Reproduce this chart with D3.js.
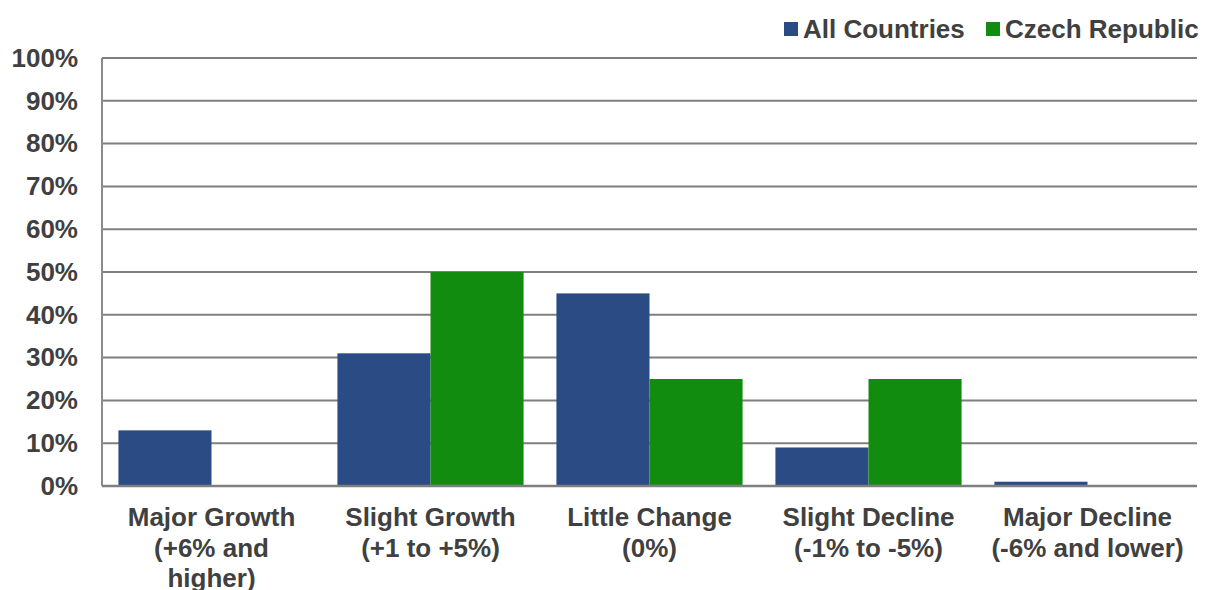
<!DOCTYPE html>
<html>
<head>
<meta charset="utf-8">
<script src="https://cdn.jsdelivr.net/npm/d3@7"></script>
<style>
  html, body { margin: 0; padding: 0; background: #ffffff; }
  svg { display: block; }
  text { font-family: "Liberation Sans", Arial, sans-serif; font-weight: bold; fill: #404040; }
</style>
</head>
<body>
<svg id="chart" width="1205" height="590"></svg>
<script>
// Expected revenue change categories
const categories = [
  "Major Growth (+6% and higher)",
  "Slight Growth (+1 to +5%)",
  "Little Change (0%)",
  "Slight Decline (-1% to -5%)",
  "Major Decline (-6% and lower)"
];
const seriesNames = ["All Countries", "Czech Republic"];
const allCountries = [13, 31, 45, 9, 1];
const czechRepublic = [0, 50, 25, 25, 0];
const yTicks = [0, 10, 20, 30, 40, 50, 60, 70, 80, 90, 100];
const colors = ["#2a4b83", "#128c0e"];

const svg = d3.select("#chart");
const margin = { top: 58, right: 8, bottom: 104, left: 102 };
const W = 1205, H = 590;
const iw = W - margin.left - margin.right;
const ih = H - margin.top - margin.bottom;
const fontSize = "26px";

const g = svg.append("g").attr("transform", `translate(${margin.left},${margin.top})`);

const x0 = d3.scaleBand().domain(categories).range([0, iw]).paddingInner(0.15).paddingOuter(0.075);
const x1 = d3.scaleBand().domain(seriesNames).range([0, x0.bandwidth()]);
const y = d3.scaleLinear().domain([0, 100]).range([ih, 0]);

// Horizontal gridlines
g.append("g")
  .selectAll("line")
  .data(yTicks.filter(t => t > 0))
  .join("line")
  .attr("x1", 0).attr("x2", iw)
  .attr("y1", d => y(d)).attr("y2", d => y(d))
  .attr("stroke", "#7f7f7f").attr("stroke-width", 2);

// Y axis labels
const yAxis = d3.axisLeft(y).tickValues(yTicks).tickFormat(d => d + "%").tickSize(0).tickPadding(24);
const ya = g.append("g").call(yAxis);
ya.select(".domain").remove();
ya.selectAll("text")
  .style("font-family", "'Liberation Sans', Arial, sans-serif")
  .style("font-weight", "bold")
  .style("font-size", fontSize)
  .attr("fill", "#404040");

// Bars
const rows = categories.map((c, i) => ({ cat: c, vals: [allCountries[i], czechRepublic[i]] }));
const grp = g.append("g").selectAll("g")
  .data(rows)
  .join("g")
  .attr("transform", d => `translate(${x0(d.cat)},0)`);

grp.selectAll("rect")
  .data(d => d.vals.map((v, k) => ({ key: seriesNames[k], v, k })))
  .join("rect")
  .attr("x", d => x1(d.key))
  .attr("y", d => y(d.v))
  .attr("width", x1.bandwidth())
  .attr("height", d => ih - y(d.v))
  .attr("fill", d => colors[d.k]);

// Axis lines (left, baseline, top)
g.append("line").attr("x1", 0).attr("x2", 0).attr("y1", 0).attr("y2", ih)
  .attr("stroke", "#8c8c8c").attr("stroke-width", 2);
g.append("line").attr("x1", 0).attr("x2", iw).attr("y1", ih).attr("y2", ih)
  .attr("stroke", "#7f7f7f").attr("stroke-width", 2.5);
g.append("line").attr("x1", 0).attr("x2", iw).attr("y1", 0).attr("y2", 0)
  .attr("stroke", "#7f7f7f").attr("stroke-width", 2);

// X axis category labels, wrapped
const xAxis = d3.axisBottom(x0).tickSize(0).tickPadding(0);
const xa = g.append("g").attr("transform", `translate(0,${ih})`).call(xAxis);
xa.select(".domain").remove();
xa.selectAll("text")
  .style("font-family", "'Liberation Sans', Arial, sans-serif")
  .style("font-weight", "bold")
  .style("font-size", fontSize)
  .attr("fill", "#404040")
  .each(function (d) {
    const t = d3.select(this);
    const words = d.split(" ");
    t.text(null);
    let line = [];
    let lineNo = 0;
    let tspan = t.append("tspan").attr("x", 0).attr("y", 40);
    for (const w of words) {
      line.push(w);
      tspan.text(line.join(" "));
      if (tspan.node().getComputedTextLength() > 202 && line.length > 1) {
        line.pop();
        tspan.text(line.join(" "));
        line = [w];
        lineNo++;
        tspan = t.append("tspan").attr("x", 0).attr("y", 40 + lineNo * 30.5).text(w);
      }
    }
  })
  .attr("dy", null);

// Legend
const legend = svg.append("g").attr("transform", "translate(784,22)");
const legendX = [0, 202];
seriesNames.forEach((name, i) => {
  const lg = legend.append("g").attr("transform", `translate(${legendX[i]},0)`);
  lg.append("rect").attr("width", 14).attr("height", 14).attr("fill", colors[i]);
  lg.append("text").attr("x", 19).attr("y", 16)
    .style("font-size", fontSize).text(name);
});
</script>
</body>
</html>
